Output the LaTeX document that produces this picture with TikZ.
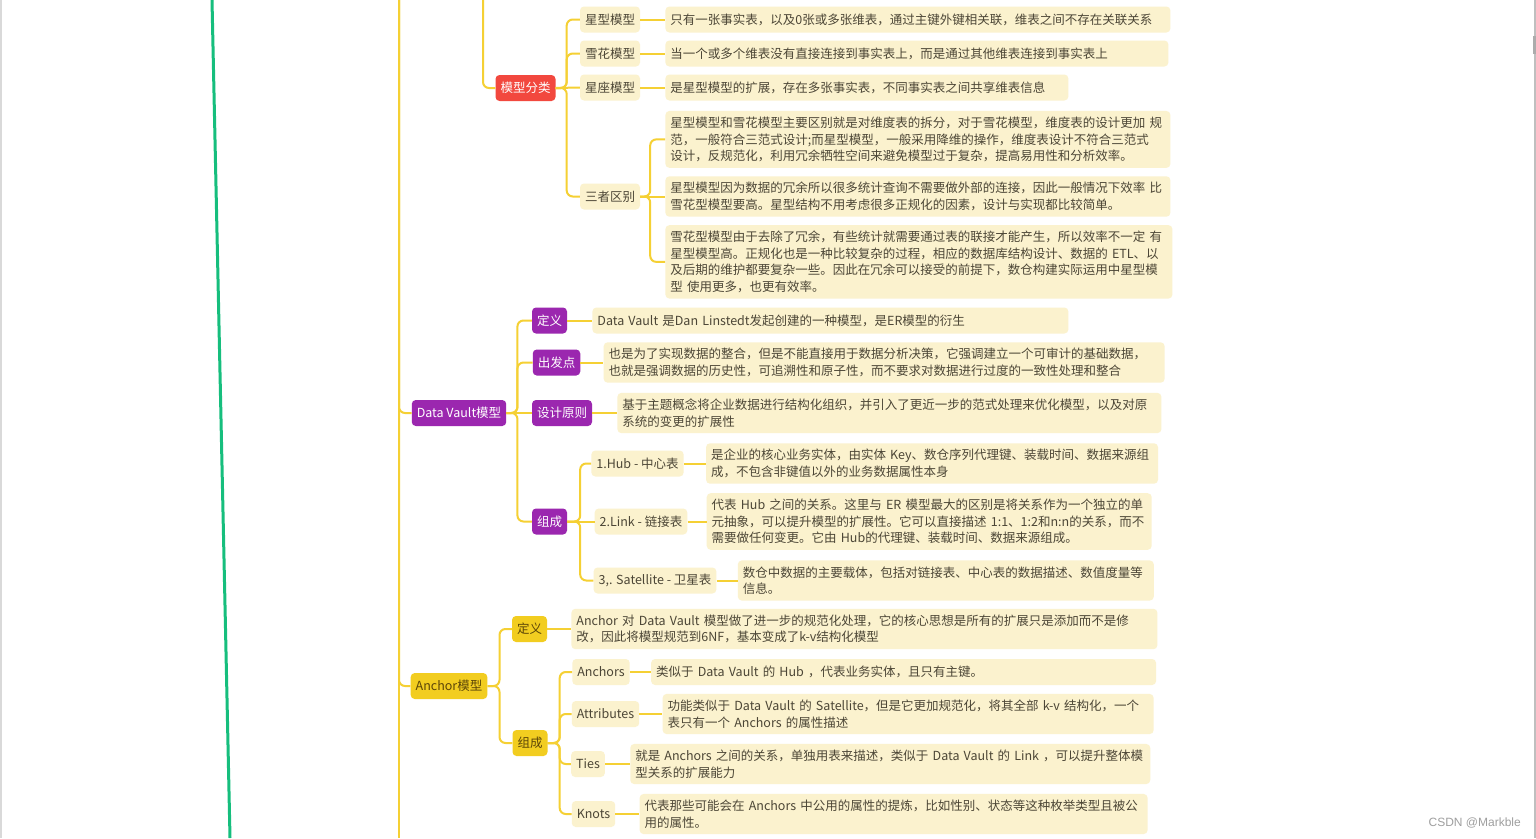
\documentclass[tikz,border=0pt]{standalone}
\usepackage{fontspec}
\setmainfont{Noto Sans CJK SC}
\newfontfamily\markfont{Liberation Sans}
\usetikzlibrary{positioning}

\definecolor{lineYellow}{RGB}{245,208,52}
\definecolor{lineGreen}{RGB}{22,190,125}
\definecolor{topicRed}{RGB}{242,72,62}
\definecolor{topicPurple}{RGB}{155,39,175}
\definecolor{topicGold}{RGB}{242,205,32}
\definecolor{goldText}{RGB}{92,70,8}
\definecolor{creamFill}{RGB}{251,242,206}
\definecolor{inkText}{RGB}{76,70,54}

\begin{document}
\begin{tikzpicture}[
    x=1pt, y=-1pt,
    branchLine/.style={draw=lineYellow, line width=2pt, rounded corners=6pt}, % 分支连线
    baseBox/.style={rounded corners=4pt, inner xsep=5pt, inner ysep=4pt, minimum height=26pt, font=\fontsize{12.5}{16.5}\selectfont}, % 所有方框的公共样式
    redTopic/.style={baseBox, fill=topicRed, text=white}, % 红色主题
    purpleTopic/.style={baseBox, fill=topicPurple, text=white}, % 紫色主题
    goldTopic/.style={baseBox, fill=topicGold, text=goldText}, % 黄色主题
    subTopic/.style={baseBox, fill=creamFill, text=inkText}, % 浅色子主题
    descBox/.style={baseBox, fill=creamFill, text=inkText, align=left, inner ysep=6pt, text width=#1}, % 说明文字框
]
    % 0. 画布与边框
    \useasboundingbox (0,0) rectangle (1536,838);
    \fill[white] (0,0) rectangle (1536,838);
    \draw[gray!30, line width=1.5pt] (0.75,0) -- (0.75,838);
    \draw[gray!50, line width=2pt] (1535,0) -- (1535,838);
    \draw[gray!65, line width=2.5pt] (1534.5,36) -- (1534.5,54);

    % 1. 左侧的绿色线与黄色主干
    \coordinate (greenTop) at (212,0);
    \coordinate (greenBot) at (230,838);
    \draw[lineGreen, line width=3pt] (greenTop) -- (greenBot);
    \coordinate (mainTop) at (399,0);
    \coordinate (mainBot) at (399,838);
    \coordinate (clsTop) at (483,0);

    % 2. 模型分类
    \node[redTopic] (cls) at (525.5,88) {模型分类};
    \node[subTopic] (star) at (610,19.5) {星型模型};
    \node[subTopic] (snow) at (610,53.5) {雪花模型};
    \node[subTopic] (constel) at (610,87.5) {星座模型};
    \node[subTopic] (diff) at (610,196.5) {三者区别};
    \node[descBox=495pt, right=25pt of star] (starDesc) {只有一张事实表，以及0张或多张维表，通过主键外键相关联，维表之间不存在关联关系};
    \node[descBox=493pt, right=25pt of snow] (snowDesc) {当一个或多个维表没有直接连接到事实表上，而是通过其他维表连接到事实表上};
    \node[descBox=393pt, right=25pt of constel] (constelDesc) {是星型模型的扩展，存在多张事实表，不同事实表之间共享维表信息};
    \node[descBox=495pt, right=25pt of diff] (diffB) {星型模型因为数据的冗余所以很多统计查询不需要做外部的连接，因此一般情况下效率 比\\雪花型模型要高。星型结构不用考虑很多正规化的因素，设计与实现都比较简单。};
    \node[descBox=495pt, anchor=south west] (diffA) at ([yshift=8pt]diffB.north west) {星型模型和雪花模型主要区别就是对维度表的拆分，对于雪花模型，维度表的设计更加 规\\范，一般符合三范式设计;而星型模型，一般采用降维的操作，维度表设计不符合三范式\\设计，反规范化，利用冗余牺牲空间来避免模型过于复杂，提高易用性和分析效率。};
    \node[descBox=497pt, anchor=north west] (diffC) at ([yshift=-8pt]diffB.south west) {雪花型模型由于去除了冗余，有些统计就需要通过表的联接才能产生，所以效率不一定 有\\星型模型高。正规化也是一种比较复杂的过程，相应的数据库结构设计、数据的 ETL、以\\及后期的维护都要复杂一些。因此在冗余可以接受的前提下，数仓构建实际运用中星型模\\型 使用更多，也更有效率。};

    % 3. Data Vault模型
    \node[purpleTopic] (dv) at (459,413) {Data Vault模型};
    \node[purpleTopic] (dvDef) at (549.5,320.5) {定义};
    \node[purpleTopic] (dvStart) at (556.5,362.5) {出发点};
    \node[purpleTopic] (dvRule) at (562,413) {设计原则};
    \node[purpleTopic] (dvComp) at (549.5,521.5) {组成};
    \node[descBox=466pt, right=25pt of dvDef] (dvDefDesc) {Data Vault 是Dan Linstedt发起创建的一种模型，是ER模型的衍生};
    \node[descBox=551pt, right=23pt of dvStart] (dvStartDesc) {也是为了实现数据的整合，但是不能直接用于数据分析决策，它强调建立一个可审计的基础数据，\\也就是强调数据的历史性，可追溯性和原子性，而不要求对数据进行过度的一致性处理和整合};
    \node[descBox=534pt, right=25pt of dvRule] (dvRuleDesc) {基于主题概念将企业数据进行结构化组织，并引入了更近一步的范式处理来优化模型，以及对原\\系统的变更的扩展性};
    \node[subTopic] (hub) at (637.5,463.5) {1.Hub - 中心表};
    \node[subTopic] (link) at (641,521.5) {2.Link - 链接表};
    \node[subTopic] (sat) at (655,580.5) {3,. Satellite - 卫星表};
    \node[descBox=442pt, right=22pt of hub] (hubDesc) {是企业的核心业务实体，由实体 Key、数仓序列代理键、装载时间、数据来源组\\成，不包含非键值以外的业务数据属性本身};
    \node[descBox=435pt, right=19pt of link] (linkDesc) {代表 Hub 之间的关系。这里与 ER 模型最大的区别是将关系作为一个独立的单\\元抽象，可以提升模型的扩展性。它可以直接描述 1:1、1:2和n:n的关系，而不\\需要做任何变更。它由 Hub的代理键、装载时间、数据来源组成。};
    \node[descBox=406pt, right=21pt of sat] (satDesc) {数仓中数据的主要载体，包括对链接表、中心表的数据描述、数值度量等\\信息。};

    % 4. Anchor模型
    \node[goldTopic] (anc) at (449,686) {Anchor模型};
    \node[goldTopic] (ancDef) at (529.5,629) {定义};
    \node[goldTopic] (ancComp) at (530,743) {组成};
    \node[descBox=576pt, right=24pt of ancDef] (ancDefDesc) {Anchor 对 Data Vault 模型做了进一步的规范化处理，它的核心思想是所有的扩展只是添加而不是修\\改，因此将模型规范到6NF，基本变成了k-v结构化模型};
    \node[subTopic] (anchors) at (601,672) {Anchors};
    \node[subTopic] (attrs) at (605.5,714) {Attributes};
    \node[subTopic] (ties) at (588,764) {Ties};
    \node[subTopic] (knots) at (593.5,814) {Knots};
    \node[descBox=495pt, right=21pt of anchors] (anchorsDesc) {类似于 Data Vault 的 Hub ，代表业务实体，且只有主键。};
    \node[descBox=481pt, right=23pt of attrs] (attrsDesc) {功能类似于 Data Vault 的 Satellite，但是它更加规范化，将其全部 k-v 结构化，一个\\表只有一个 Anchors 的属性描述};
    \node[descBox=510pt, right=25pt of ties] (tiesDesc) {就是 Anchors 之间的关系，单独用表来描述，类似于 Data Vault 的 Link ，可以提升整体模\\型关系的扩展能力};
    \node[descBox=498pt, right=24pt of knots] (knotsDesc) {代表那些可能会在 Anchors 中公用的属性的提炼，比如性别、状态等这种枚举类型且被公\\用的属性。};

    % 5. 连线
    \draw[branchLine] (mainTop) -- (mainBot);
    \draw[branchLine] (mainTop) |- (dv.west);
    \draw[branchLine] (mainTop) |- (anc.west);
    \draw[branchLine] (clsTop) |- (cls.west);

    \draw[branchLine] (cls.east) -- ++(11,0) |- (star.west);
    \draw[branchLine] (cls.east) -- ++(11,0) |- (snow.west);
    \draw[branchLine] (cls.east) -- (constel.west);
    \draw[branchLine] (cls.east) -- ++(11,0) |- (diff.west);
    \draw[branchLine] (star.east) -- (starDesc.west);
    \draw[branchLine] (snow.east) -- (snowDesc.west);
    \draw[branchLine] (constel.east) -- (constelDesc.west);
    \draw[branchLine] (diff.east) -- ++(10,0) |- (diffA.west);
    \draw[branchLine] (diff.east) -- (diffB.west);
    \draw[branchLine] (diff.east) -- ++(10,0) |- (diffC.west);

    \draw[branchLine] (dv.east) -- ++(11,0) |- (dvDef.west);
    \draw[branchLine] (dv.east) -- ++(11,0) |- (dvStart.west);
    \draw[branchLine] (dv.east) -- (dvRule.west);
    \draw[branchLine] (dv.east) -- ++(11,0) |- (dvComp.west);
    \draw[branchLine] (dvDef.east) -- (dvDefDesc.west);
    \draw[branchLine] (dvStart.east) -- (dvStartDesc.west);
    \draw[branchLine] (dvRule.east) -- (dvRuleDesc.west);
    \draw[branchLine] (dvComp.east) -- ++(13,0) |- (hub.west);
    \draw[branchLine] (dvComp.east) -- (link.west);
    \draw[branchLine] (dvComp.east) -- ++(13,0) |- (sat.west);
    \draw[branchLine] (hub.east) -- (hubDesc.west);
    \draw[branchLine] (link.east) -- (linkDesc.west);
    \draw[branchLine] (sat.east) -- (satDesc.west);

    \draw[branchLine] (anc.east) -- ++(12,0) |- (ancDef.west);
    \draw[branchLine] (anc.east) -- ++(12,0) |- (ancComp.west);
    \draw[branchLine] (ancDef.east) -- (ancDefDesc.west);
    \draw[branchLine] (ancComp.east) -- ++(12,0) |- (anchors.west);
    \draw[branchLine] (ancComp.east) -- ++(12,0) |- (attrs.west);
    \draw[branchLine] (ancComp.east) -- ++(12,0) |- (ties.west);
    \draw[branchLine] (ancComp.east) -- ++(12,0) |- (knots.west);
    \draw[branchLine] (anchors.east) -- (anchorsDesc.west);
    \draw[branchLine] (attrs.east) -- (attrsDesc.west);
    \draw[branchLine] (ties.east) -- (tiesDesc.west);
    \draw[branchLine] (knots.east) -- (knotsDesc.west);

    % 6. 水印
    \node[anchor=east, text=gray!75, font=\markfont\fontsize{12}{14}\selectfont, inner sep=0pt] (mark) at (1521,823) {CSDN @Markble};
\end{tikzpicture}
\end{document}
